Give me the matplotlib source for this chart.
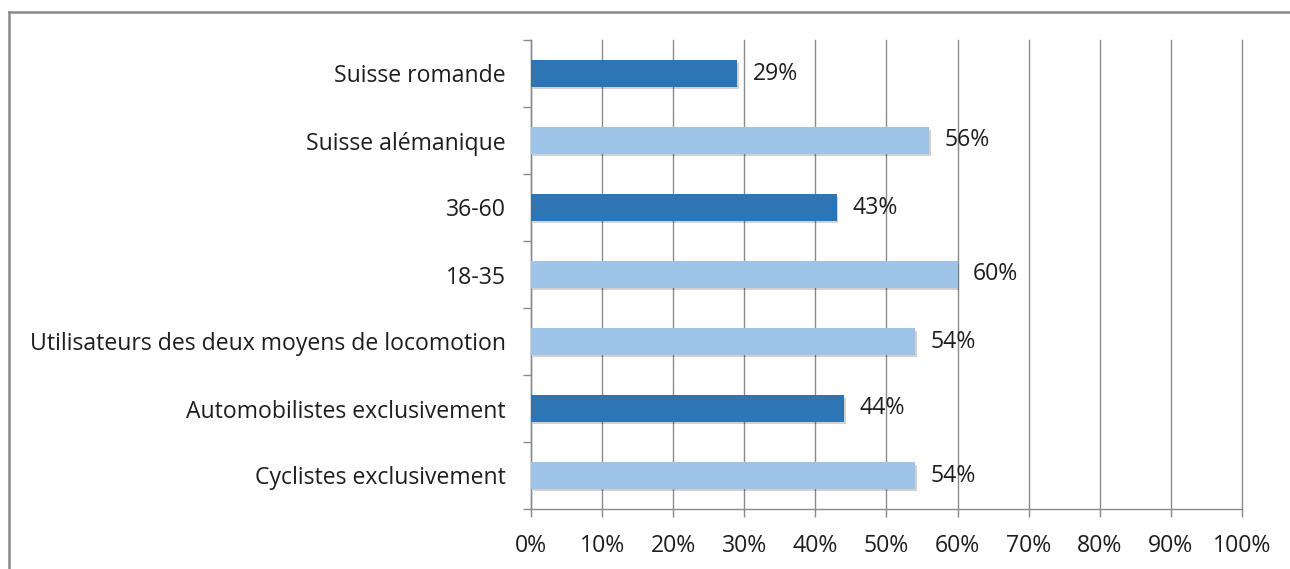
import matplotlib
matplotlib.use("Agg")
import matplotlib.pyplot as plt
from matplotlib.lines import Line2D
import matplotlib.patheffects as pe
import numpy as np

categories = ["Suisse romande", "Suisse alémanique", "36-60", "18-35",
              "Utilisateurs des deux moyens de locomotion",
              "Automobilistes exclusivement", "Cyclistes exclusivement"]
values = [29, 56, 43, 60, 54, 44, 54]
colors = ["#2E75B6", "#9DC3E6", "#2E75B6", "#9DC3E6", "#9DC3E6", "#2E75B6", "#9DC3E6"]
xticks = [0, 10, 20, 30, 40, 50, 60, 70, 80, 90, 100]
xticklabels = [f"{t}%" for t in xticks]

plt.rcParams['font.family'] = ['Open Sans', 'DejaVu Sans']
FS = 16.6
TXT = "#1e1e1e"

W, H = 1290, 569
fig = plt.figure(figsize=(W/100, H/100), dpi=100)
fig.patch.set_facecolor("white")

# outer frame
fig.add_artist(Line2D([9/W, 1.0], [1-12/H, 1-12/H], color="#8a8a8a", lw=1.8, transform=fig.transFigure))
fig.add_artist(Line2D([9/W, 9/W], [0, 1-12/H], color="#8a8a8a", lw=1.8, transform=fig.transFigure))

ax = fig.add_axes([531/W, 1-509/H, (1242-531)/W, (509-40)/H])
n = len(categories)
y = np.arange(n)[::-1]
shadow = [pe.SimplePatchShadow(offset=(1.2, -1.8), shadow_rgbFace="#000000", alpha=0.18), pe.Normal()]
bars = ax.barh(y, values, height=0.39, color=colors, zorder=3)
for b in bars:
    b.set_path_effects(shadow)
for yi, v in zip(y, values):
    ax.text(v + 2.2, yi, f"{v}%", va="center", ha="left", fontsize=FS, color=TXT, zorder=4)

ax.set_xlim(0, 100)
ax.set_ylim(-0.5, n - 0.5)
ax.set_xticks(xticks)
ax.set_xticklabels(xticklabels, fontsize=FS, color=TXT)
ax.tick_params(axis="x", length=6, width=1, color="#8a8a8a", pad=12)
ax.set_yticks(np.arange(-0.5, n, 1.0))
ax.set_yticklabels([])
ax.tick_params(axis="y", which="major", length=6, width=1, color="#8a8a8a")
ax.set_yticks(y, minor=True)
ax.set_yticklabels(categories, minor=True, fontsize=FS, color=TXT)
ax.tick_params(axis="y", which="minor", length=0, pad=18)
ax.grid(axis="x", color="#8a8a8a", lw=1, zorder=0)
for gl in ax.get_xgridlines():
    gl.set_clip_on(False)
for s in ["top", "right"]:
    ax.spines[s].set_visible(False)
for s in ["left", "bottom"]:
    ax.spines[s].set_color("#8a8a8a")
    ax.spines[s].set_linewidth(1)

fig.savefig("out.png", dpi=100)
